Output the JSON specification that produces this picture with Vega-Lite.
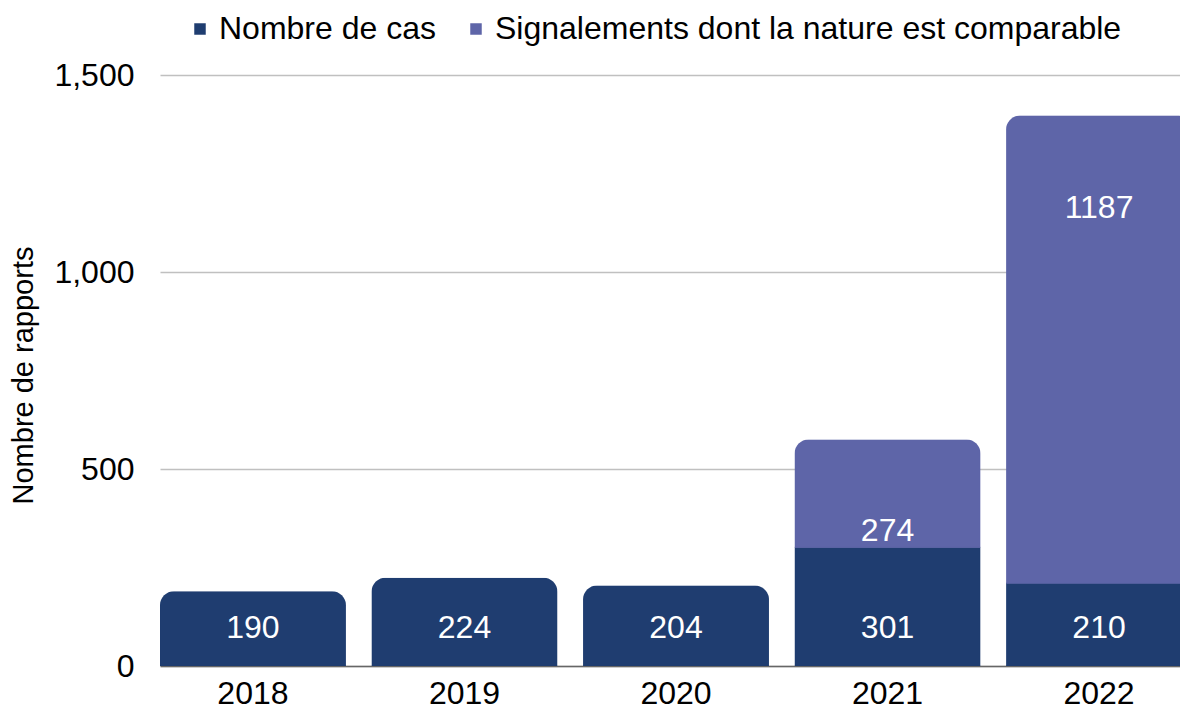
{
  "$schema": "https://vega.github.io/schema/vega-lite/v6.json",
  "width": 1020,
  "height": 591,
  "autosize": {"type": "none"},
  "padding": {"left": 160, "top": 75, "right": 0, "bottom": 45},
  "background": "white",
  "config": {"view": {"stroke": null}, "font": "Liberation Sans"},
  "data": {
    "values": [
      {"year": "2018", "series": "Nombre de cas", "value": 190},
      {"year": "2019", "series": "Nombre de cas", "value": 224},
      {"year": "2020", "series": "Nombre de cas", "value": 204},
      {"year": "2021", "series": "Nombre de cas", "value": 301},
      {"year": "2022", "series": "Nombre de cas", "value": 210},
      {"year": "2021", "series": "Signalements dont la nature est comparable", "value": 274},
      {"year": "2022", "series": "Signalements dont la nature est comparable", "value": 1187}
    ]
  },
  "encoding": {
    "x": {
      "field": "year",
      "type": "nominal",
      "scale": {"range": [0, 1032], "paddingInner": 0.121, "paddingOuter": 0},
      "axis": {
        "title": null,
        "labelAngle": 0,
        "labelFontSize": 32,
        "labelColor": "#000000",
        "labelPadding": 12,
        "ticks": false,
        "domainColor": "#666666",
        "domainWidth": 1.5,
        "grid": false
      }
    }
  },
  "layer": [
    {
      "mark": {"type": "bar", "cornerRadiusEnd": 14, "strokeWidth": 0.8},
      "encoding": {
        "y": {
          "field": "value",
          "type": "quantitative",
          "stack": "zero",
          "scale": {"domain": [0, 1500], "nice": false},
          "axis": {
            "values": [0, 500, 1000, 1500],
            "format": ",d",
            "title": "Nombre de rapports",
            "titleFontSize": 29,
            "titleFontWeight": "normal",
            "titleColor": "#000000",
            "titleX": -137,
            "titleY": 300,
            "titleBaseline": "middle",
            "labelFontSize": 32,
            "labelColor": "#000000",
            "labelPadding": 26,
            "ticks": false,
            "domain": false,
            "grid": true,
            "gridColor": "#c0c0c0",
            "gridWidth": 1.5
          }
        },
        "color": {
          "field": "series",
          "type": "nominal",
          "scale": {
            "domain": ["Nombre de cas", "Signalements dont la nature est comparable"],
            "range": ["#1f3d70", "#5e65a8"]
          },
          "legend": {
            "title": null,
            "orient": "none",
            "legendX": 24,
            "legendY": -62,
            "direction": "horizontal",
            "symbolType": "square",
            "symbolSize": 132,
            "symbolStrokeWidth": 0,
            "labelFontSize": 32,
            "labelColor": "#000000",
            "labelOffset": 3,
            "columnPadding": 24,
            "labelLimit": 800
          }
        },
        "stroke": {
          "field": "series",
          "type": "nominal",
          "scale": {
            "domain": ["Nombre de cas", "Signalements dont la nature est comparable"],
            "range": ["#1f3d70", "#5e65a8"]
          },
          "legend": null
        },
        "order": {"field": "series"}
      }
    },
    {
      "transform": [{"filter": "datum.series === 'Nombre de cas'"}],
      "mark": {"type": "text", "color": "white", "fontSize": 32, "baseline": "middle", "dy": -38},
      "encoding": {
        "y": {"datum": 0, "type": "quantitative"},
        "text": {"field": "value", "type": "quantitative"}
      }
    },
    {
      "transform": [
        {"stack": "value", "groupby": ["year"], "sort": [{"field": "series"}], "as": ["v0", "v1"]},
        {"filter": "datum.series !== 'Nombre de cas'"}
      ],
      "mark": {"type": "text", "color": "white", "fontSize": 32, "baseline": "middle", "dy": 92},
      "encoding": {
        "y": {"field": "v1", "type": "quantitative"},
        "text": {"field": "value", "type": "quantitative"}
      }
    }
  ]
}
